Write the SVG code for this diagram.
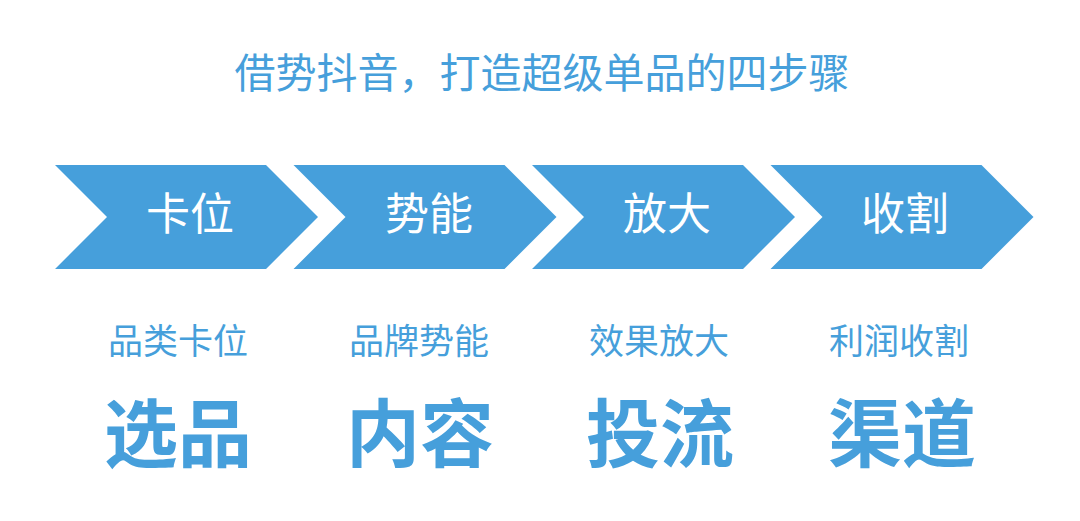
<svg xmlns="http://www.w3.org/2000/svg" width="1080" height="521" viewBox="0 0 1080 521">
<defs>
<style>
.chev{fill:#469fdb}
.t{font-family:"Noto Sans CJK SC","Noto Sans",sans-serif;text-anchor:middle}
.title{fill:#469fdb;font-size:41px}
.in{fill:#ffffff;font-size:44px}
.sub{fill:#469fdb;font-size:35px}
.big{fill:#469fdb;font-size:74px;font-weight:bold}
</style>
<path id="chevron" d="M0,0 H211 L263,52 L211,104 H0 L52,52 Z"/>
</defs>
<rect width="1080" height="521" fill="#ffffff"/>
<text class="t title" x="542" y="88">借势抖音，打造超级单品的四步骤</text>
<g id="connectors"></g>
<g id="step1">
<use href="#chevron" class="chev" x="55" y="165"/>
<text class="t in" x="190" y="230">卡位</text>
<text class="t sub" x="178" y="354">品类卡位</text>
<text class="t big" x="178" y="461">选品</text>
</g>
<g id="step2">
<use href="#chevron" class="chev" x="293.5" y="165"/>
<text class="t in" x="429" y="230">势能</text>
<text class="t sub" x="419" y="354">品牌势能</text>
<text class="t big" x="420" y="461">内容</text>
</g>
<g id="step3">
<use href="#chevron" class="chev" x="532" y="165"/>
<text class="t in" x="667" y="230">放大</text>
<text class="t sub" x="659" y="354">效果放大</text>
<text class="t big" x="660" y="461">投流</text>
</g>
<g id="step4">
<use href="#chevron" class="chev" x="770.5" y="165"/>
<text class="t in" x="905" y="230">收割</text>
<text class="t sub" x="899" y="354">利润收割</text>
<text class="t big" x="902" y="461">渠道</text>
</g>
</svg>
